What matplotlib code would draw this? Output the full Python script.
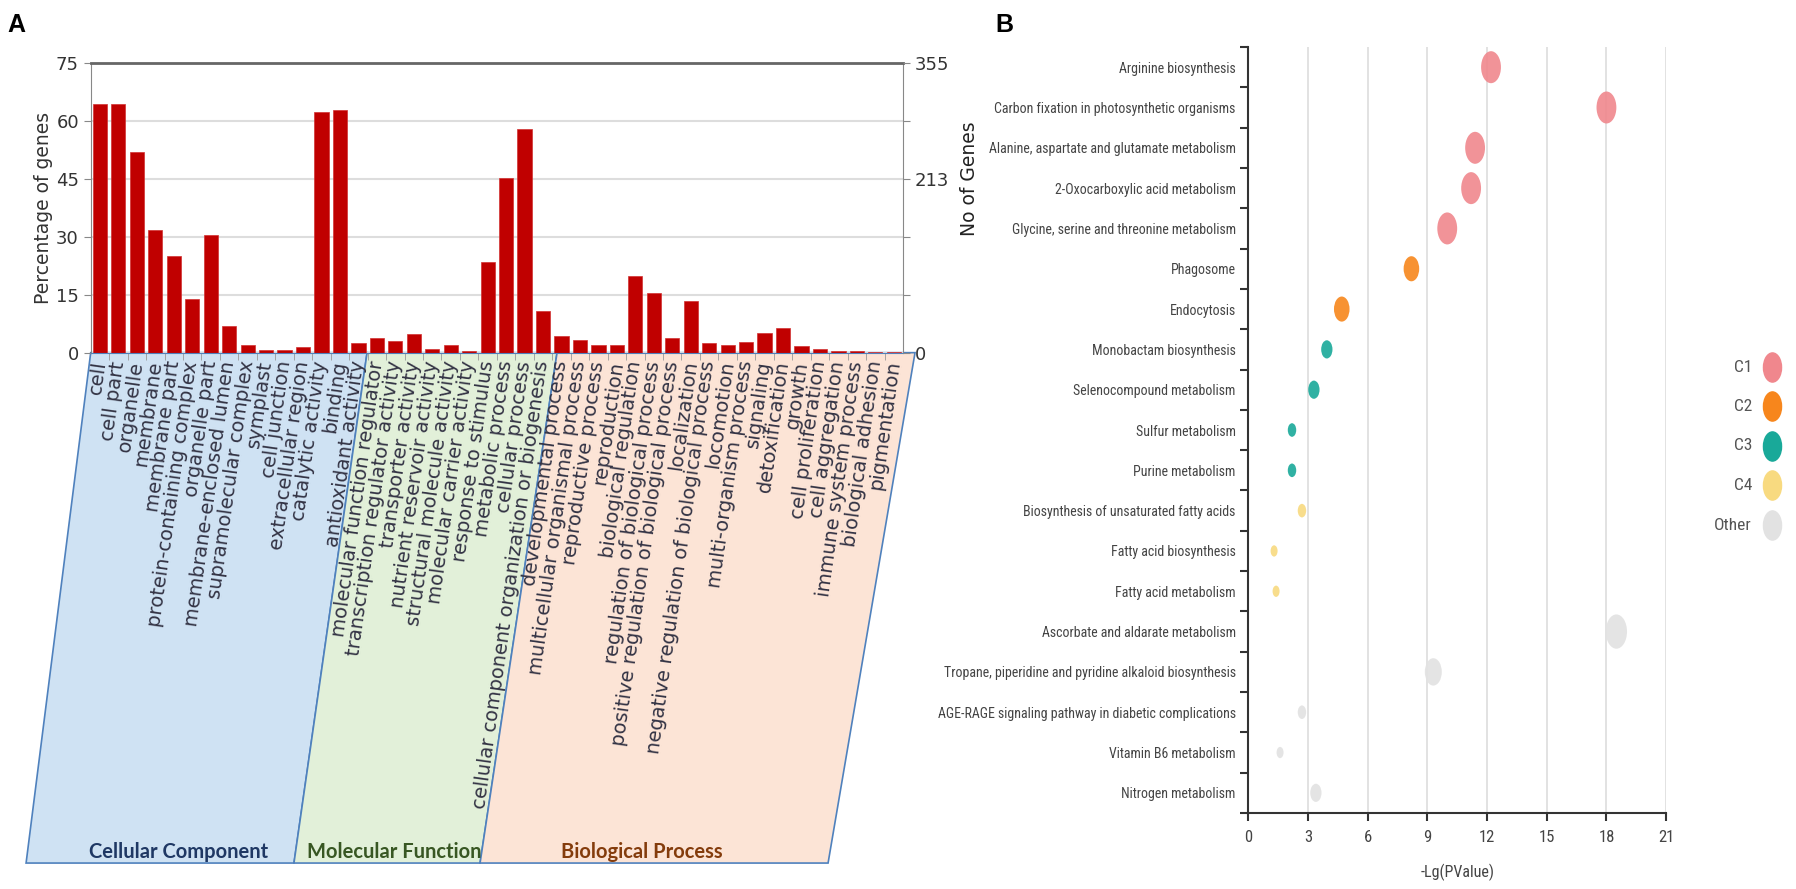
import matplotlib
matplotlib.use("Agg")
import matplotlib.pyplot as plt
import numpy as np
from matplotlib import font_manager
from matplotlib.path import Path
from matplotlib.transforms import Affine2D, blended_transform_factory
from matplotlib.patches import Polygon
from matplotlib.lines import Line2D

# ---- panel A : GO annotation (percentage of genes) ----
cc_terms = ["cell", "cell part", "organelle", "membrane", "membrane part",
            "protein-containing complex", "organelle part",
            "membrane-enclosed lumen", "supramolecular complex", "symplast",
            "cell junction", "extracellular region"]
cc_pct = [64.2, 64.2, 52.0, 31.6, 24.9, 14.0, 30.4, 6.9, 2.0, 0.7, 0.7, 1.5]

mf_terms = ["catalytic activity", "binding", "antioxidant activity",
            "molecular function regulator", "transcription regulator activity",
            "transporter activity", "nutrient reservoir activity",
            "structural molecule activity", "molecular carrier activity"]
mf_pct = [62.2, 62.8, 2.4, 3.9, 3.1, 4.8, 0.9, 2.0, 0.4]

bp_terms = ["response to stimulus", "metabolic process", "cellular process",
            "cellular component organization or biogenesis",
            "developmental process", "multicellular organismal process",
            "reproductive process", "reproduction", "biological regulation",
            "regulation of biological process",
            "positive regulation of biological process", "localization",
            "negative regulation of biological process", "locomotion",
            "multi-organism process", "signaling", "detoxification", "growth",
            "cell proliferation", "cell aggregation", "immune system process",
            "biological adhesion", "pigmentation"]
bp_pct = [23.5, 45.1, 57.9, 10.9, 4.2, 3.4, 1.9, 1.9, 19.8, 15.4, 3.8, 13.4,
          2.6, 1.9, 2.7, 5.0, 6.5, 1.7, 0.9, 0.45, 0.45, 0.25, 0.25]

pct_ticks = [0, 15, 30, 45, 60, 75]
total_genes = 355
gene_labels_shown = [0, 213, 355]
group_titles = ["Cellular Component", "Molecular Function", "Biological Process"]

# ---- panel B : KEGG enrichment ----
pathways = ["Arginine biosynthesis",
            "Carbon fixation in photosynthetic organisms",
            "Alanine, aspartate and glutamate metabolism",
            "2-Oxocarboxylic acid metabolism",
            "Glycine, serine and threonine metabolism",
            "Phagosome", "Endocytosis", "Monobactam biosynthesis",
            "Selenocompound metabolism", "Sulfur metabolism",
            "Purine metabolism", "Biosynthesis of unsaturated fatty acids",
            "Fatty acid biosynthesis", "Fatty acid metabolism",
            "Ascorbate and aldarate metabolism",
            "Tropane, piperidine and pyridine alkaloid biosynthesis",
            "AGE-RAGE signaling pathway in diabetic complications",
            "Vitamin B6 metabolism", "Nitrogen metabolism"]
neg_log_p = [12.2, 18.0, 11.4, 11.2, 10.0, 8.2, 4.7, 3.95, 3.3, 2.2,
             2.2, 2.7, 1.3, 1.4, 18.5, 9.3, 2.7, 1.6, 3.4]
cluster = ["C1", "C1", "C1", "C1", "C1", "C2", "C2", "C3", "C3", "C3",
           "C3", "C4", "C4", "C4", "Other", "Other", "Other", "Other", "Other"]
gene_count = [10, 10, 10, 10, 10, 7, 7, 4, 4, 2, 2, 2, 1, 1, 11, 8, 2, 1, 4]
cluster_names = ["C1", "C2", "C3", "C4", "Other"]
cluster_colors = {"C1": "#F0878D", "C2": "#F7861C", "C3": "#19A999",
                  "C4": "#F8DA80", "Other": "#E2E2E2"}
xb_ticks = [0, 3, 6, 9, 12, 15, 18, 21]


def pick_font(names):
    for n in names:
        try:
            font_manager.findfont(font_manager.FontProperties(family=n),
                                  fallback_to_default=False)
            return n
        except ValueError:
            pass
    return "DejaVu Sans"


narrow = pick_font(["Liberation Sans Narrow", "Roboto Condensed", "Liberation Sans"])
title_font = pick_font(["Lato", "Open Sans"])

fig = plt.figure(figsize=(17.96, 8.89), dpi=100)

# ================= A =================
terms = cc_terms + mf_terms + bp_terms
pct = np.array(cc_pct + mf_pct + bp_pct)
x = np.arange(len(terms))

ax = fig.add_axes([0.0505, 0.6033, 0.4523, 0.3262])
ax.set_axisbelow(True)
ax.bar(x, pct, width=0.77, color="#C00000", edgecolor="#D23030", linewidth=0.5, zorder=2)
ax.set_xlim(-0.5, len(terms) - 0.5)
ax.set_ylim(0, 75)
ax.set_yticks(pct_ticks)
ax.tick_params(axis="y", labelsize=13, labelcolor="#333333", color="#888888", length=5)
ax.set_ylabel("Percentage of genes", fontsize=13.5, color="#333333", labelpad=2)
ax.grid(axis="y", color="#DDDDDD", linewidth=1.5)

ax.set_xticks(x)
ax.set_xticklabels(terms, rotation=82, ha="right", va="center",
                   rotation_mode="anchor", fontsize=14, color="#333344")
ax.tick_params(axis="x", length=0, pad=6)
ax.set_xticks(x[:-1] + 0.5, minor=True)
ax.tick_params(axis="x", which="minor", length=5, color="#999999")

for side in ["left", "right"]:
    ax.spines[side].set_color("#888888")
ax.spines["top"].set_color("#666666")
ax.spines["top"].set_linewidth(2)
ax.spines["bottom"].set_color("#4F81BD")

ax2 = ax.twinx()
ax2.set_ylim(0, total_genes)
gene_ticks = [total_genes * t / 75 for t in pct_ticks]
ax2.set_yticks(gene_ticks)
ax2.set_yticklabels([str(int(round(g))) if int(round(g)) in gene_labels_shown else ""
                     for g in gene_ticks])
ax2.tick_params(axis="y", labelsize=13, labelcolor="#333333", color="#888888", length=5)
ax2.set_ylabel("No of Genes", fontsize=13.5, color="#222222")
ax2.yaxis.set_label_coords(1.07, 0.60)
for s in ax2.spines.values():
    s.set_visible(False)

# shaded parallelograms behind the category labels
trans = blended_transform_factory(ax.transData, ax.transAxes)
bottom = -1.76
shapes = [
    ([-0.5, 14.47, 10.51, -4.0], "#CFE2F3", "#1F3864"),
    ([14.47, 24.76, 20.59, 10.51], "#E2F0D9", "#385723"),
    ([24.76, 44.15, 39.44, 20.59], "#FCE4D6", "#843C0C"),
]
for (tl, tr, br, bl), face, tcol in shapes:
    poly = Polygon([(tl, 0), (tr, 0), (br, bottom), (bl, bottom)], closed=True,
                   transform=trans, facecolor=face, edgecolor="#4F81BD",
                   linewidth=1.2, clip_on=False, zorder=0.2)
    ax.add_patch(poly)

title_left = [-0.6, 11.2, 25.0]
for tx, name, (_, face, tcol) in zip(title_left, group_titles, shapes):
    ax.text(tx, bottom + 0.005, name, transform=trans, ha="left", va="bottom",
            fontsize=14.5, fontweight="bold", color=tcol, family=title_font,
            zorder=0.3)

fig.text(0.004, 0.985, "A", fontsize=18, fontweight="bold", va="top",
         family="Liberation Sans")

# ================= B =================
axb = fig.add_axes([0.695, 0.0855, 0.2327, 0.8616])
yb = np.arange(len(pathways))

ellipse = Path.unit_circle().transformed(Affine2D().scale(0.62, 1.0))


def diam_px(n):
    return 9 + 2.3 * n


sizes = [(diam_px(n) * 0.72) ** 2 for n in gene_count]
colors = [cluster_colors[c] for c in cluster]
axb.scatter(neg_log_p, yb, s=sizes, c=colors, marker=ellipse, alpha=0.9,
            linewidths=0, zorder=3)

axb.set_xlim(0, 21)
axb.set_ylim(len(pathways) - 0.5, -0.5)
axb.set_xticks(xb_ticks)
axb.set_xticklabels([str(t) for t in xb_ticks], family=narrow, fontsize=12,
                    color="#444444")
axb.set_yticks(yb)
axb.set_yticklabels(pathways, family=narrow, fontsize=10, color="#444444")
axb.set_yticks(np.arange(len(pathways) + 1) - 0.5, minor=True)
axb.tick_params(axis="y", which="major", length=0, pad=9)
axb.tick_params(axis="y", which="minor", length=6, width=1.5, color="#333333")
axb.tick_params(axis="x", length=6, width=1.5, color="#333333", pad=6)
axb.grid(axis="x", color="#DDDDDD", linewidth=1.2)
axb.set_xlabel("-Lg(PValue)", family=narrow, fontsize=11.5, color="#444444",
               labelpad=14)
for side in ["top", "right"]:
    axb.spines[side].set_visible(False)
for side in ["left", "bottom"]:
    axb.spines[side].set_color("#333333")
    axb.spines[side].set_linewidth(1.5)

# legend on the right
for i, name in enumerate(cluster_names):
    ly = 1 - (367 + 39.5 * i) / 889
    fig.text(1752 / 1796, ly, name, ha="right", va="center", family=narrow,
             fontsize=12.5, color="#555555")
    fig.add_artist(Line2D([1772 / 1796], [ly], marker=ellipse, markersize=21,
                          color=cluster_colors[name], linestyle="none",
                          transform=fig.transFigure))

fig.text(995 / 1796, 0.985, "B", fontsize=18, fontweight="bold", va="top",
         family="Liberation Sans")

fig.savefig("out.png", dpi=100)
